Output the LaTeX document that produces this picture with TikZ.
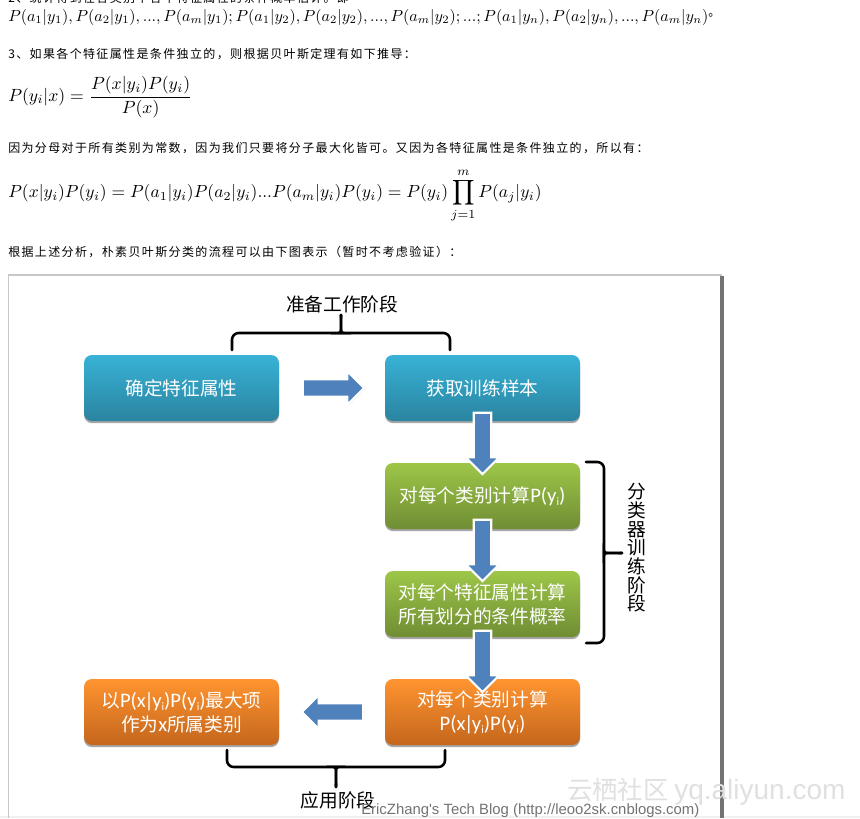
\documentclass[tikz,border=0pt]{standalone}
\usepackage{fontspec}
\usepackage{amsmath}
\usepackage{graphicx}
\usetikzlibrary{shapes.arrows,shadows,calc}
\newfontfamily\cjk{Noto Sans CJK SC}
\newfontfamily\cjkbody[LetterSpace=11.4]{Noto Sans CJK SC}
\newfontfamily\latbox{Carlito}
\newfontfamily\wm{Liberation Sans}
\newcommand{\subi}{\raisebox{-.35ex}{\fontsize{8.5}{8.5}\selectfont i}}
\newcommand{\barsym}{\kern-1.2pt|\kern-1.2pt}
\newcommand{\pyi}{{\latbox\fontsize{15.5}{18}\selectfont P(y\subi)}}
\newcommand{\pxyi}{{\latbox\fontsize{15.5}{18}\selectfont P(x\barsym y\subi)P(y\subi)}}
\definecolor{arrowblue}{HTML}{4F81BD}
\tikzset{
  x=.75pt,y=-.75pt,
  flowbox/.style={rounded corners=6pt,minimum width=146.25pt,minimum height=49.5pt,inner sep=0pt,
    text=white,align=center,font=\cjk\fontsize{14}{18}\selectfont,
    drop shadow={shadow xshift=0pt,shadow yshift=-1.6pt,opacity=.35,fill=black}},
  cyanbox/.style={flowbox,top color={rgb,255:red,56;green,178;blue,214},bottom color={rgb,255:red,42;green,132;blue,160}},
  greenbox/.style={flowbox,top color={rgb,255:red,157;green,198;blue,72},bottom color={rgb,255:red,112;green,141;blue,52}},
  orangebox/.style={flowbox,top color={rgb,255:red,255;green,148;blue,48},bottom color={rgb,255:red,196;green,102;blue,28}},
  blockarrow/.style={single arrow,fill=arrowblue,draw=white,line width=1.6pt,inner sep=0pt,
    single arrow head extend=6pt,single arrow tip angle=90,minimum height=46pt,
    drop shadow={shadow xshift=.6pt,shadow yshift=-.6pt,opacity=.25,fill=black}},
  bracepath/.style={draw=black,line width=1.9pt,line cap=round,rounded corners=5pt},
  caption/.style={font=\cjk\fontsize{14}{14}\selectfont,text=black,inner sep=0pt},
  bodytext/.style={font=\cjkbody\fontsize{9}{11}\selectfont,text=black,anchor=west,inner sep=0pt},
  formula/.style={anchor=west,inner sep=0pt,text=black},
}
\newcommand{\shaft}{\rule{0pt}{11.5pt}}
\begin{document}
\begin{tikzpicture}
\useasboundingbox (0,0) rectangle (860,818);
\clip (0,0) rectangle (860,818);
\fill[white] (0,0) rectangle (860,818);
\fill[black!6] (0,816) rectangle (860,818);

% text above the figure
\node[bodytext] (line2) at (8,-2.5) {2、统计得到在各类别下各个特征属性的条件概率估计。即};
\node[formula] (f1) at (8,17) {\resizebox{525pt}{!}{$P(a_1|y_1),P(a_2|y_1),...,P(a_m|y_1);P(a_1|y_2),P(a_2|y_2),...,P(a_m|y_2);...;P(a_1|y_n),P(a_2|y_n),...,P(a_m|y_n)$}};
\node[bodytext,anchor=west] (stop) at (708,15.5) {。};
\node[bodytext] (line3) at (8,54) {3、如果各个特征属性是条件独立的，则根据贝叶斯定理有如下推导：};
\node[formula] (f2) at (8,97) {\resizebox{138pt}{!}{$\displaystyle P(y_i|x)=\frac{P(x|y_i)P(y_i)}{P(x)}$}};
\node[bodytext] (line4) at (8,148) {因为分母对于所有类别为常数，因为我们只要将分子最大化皆可。又因为各特征属性是条件独立的，所以有：};
\node[formula] (f3) at (8,195.5) {\resizebox{400pt}{!}{$\displaystyle P(x|y_i)P(y_i)=P(a_1|y_i)P(a_2|y_i)...P(a_m|y_i)P(y_i)=P(y_i)\prod_{j=1}^{m}P(a_j|y_i)$}};
\node[bodytext] (line5) at (8,252) {根据上述分析，朴素贝叶斯分类的流程可以由下图表示（暂时不考虑验证）：};

% figure frame
\draw[black!22,line width=1pt] (8.6,818) -- (8.6,275) -- (722,275);
\draw[black!55,line width=2.4pt] (722,276) -- (722,818);

% flow boxes
\node[cyanbox] (b1) at (181.5,388) {确定特征属性};
\node[cyanbox] (b2) at (482.5,388) {获取训练样本};
\node[greenbox] (g1) at (482.5,496) {对每个类别计算\pyi};
\node[greenbox] (g2) at (482.5,604) {对每个特征属性计算\\所有划分的条件概率};
\node[orangebox] (o2) at (482.5,712) {对每个类别计算\\\pxyi};
\node[orangebox] (o1) at (181.5,712) {以\pxyi 最大项\\作为{\latbox\fontsize{15.5}{18}\selectfont x}所属类别};

% block arrows
\node[blockarrow] (a1) at ($(b1.east)!.5!(b2.west)+(-3,0)$) {\shaft};
\node[blockarrow,rotate=-90] (a2) at ($(b2.south)!.5!(g1.north)+(0,-3)$) {\shaft};
\node[blockarrow,rotate=-90] (a3) at ($(g1.south)!.5!(g2.north)+(0,-4)$) {\shaft};
\node[blockarrow,rotate=-90] (a4) at ($(g2.south)!.5!(o2.north)+(0,-1)$) {\shaft};
\node[blockarrow,rotate=180] (a5) at ($(o1.east)!.5!(o2.west)+(5,0)$) {\shaft};

% braces
\coordinate (t1) at (232,350); \coordinate (t2) at (450,350); \coordinate (t3) at (341,315);
\draw[bracepath] (t1) -- (232,333) -- (337,333) .. controls (340,333) and (341,330) .. (t3);
\draw[bracepath] (t2) -- (450,333) -- (345,333) .. controls (342,333) and (341,330) .. (t3);
\coordinate (r1) at (586,462); \coordinate (r2) at (586,643); \coordinate (r3) at (622,553);
\draw[bracepath] (r1) -- (604,462) -- (604,549) .. controls (604,552) and (607,553) .. (r3);
\draw[bracepath] (r2) -- (604,643) -- (604,557) .. controls (604,554) and (607,553) .. (r3);
\coordinate (d1) at (227,750); \coordinate (d2) at (445,750); \coordinate (d3) at (336,787);
\draw[bracepath] (d1) -- (227,767) -- (332,767) .. controls (335,767) and (336,770) .. (d3);
\draw[bracepath] (d2) -- (445,767) -- (340,767) .. controls (337,767) and (336,770) .. (d3);

% stage captions
\node[caption] (c1) at (342,304) {准备工作阶段};
\node[caption,align=center] (c2) at (637,548) {分\\类\\器\\训\\练\\阶\\段};
\node[caption] (c3) at (338,800) {应用阶段};

% watermarks
\node[inner sep=0pt,text=black!55,anchor=west,font=\wm\fontsize{11.17}{12}\selectfont] (w1) at (361,811) {EricZhang's Tech Blog (http://leoo2sk.cnblogs.com)};
\node[inner sep=0pt,text=black!12,anchor=west,font=\cjk\fontsize{19}{20}\selectfont] (w2) at (567,792) {云栖社区 {\wm\fontsize{21}{22}\selectfont yq.aliyun.com}};
\end{tikzpicture}
\end{document}
